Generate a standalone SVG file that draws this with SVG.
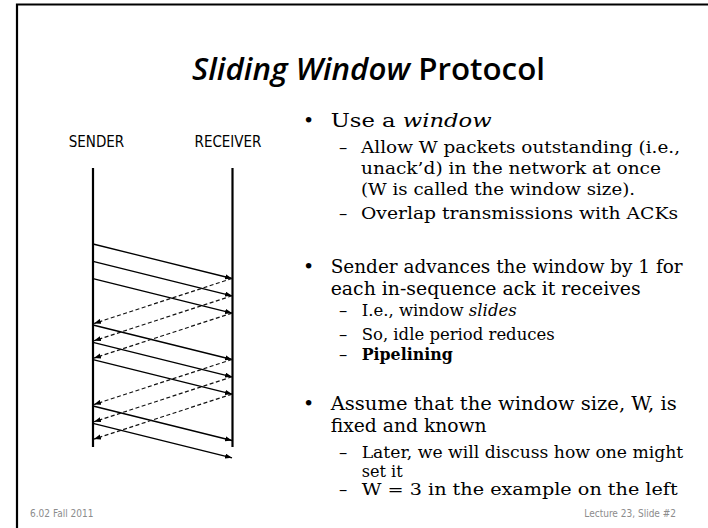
<svg xmlns="http://www.w3.org/2000/svg" width="708" height="528" viewBox="0 0 708 528">
  <style>
    .title { font-family: "Open Sans", "DejaVu Sans Condensed", sans-serif; font-weight: 600; font-size: 30px; fill: #000; }
    .lbl { font-family: "DejaVu Sans Condensed", "DejaVu Sans", sans-serif; font-size: 15px; fill: #000; }
    .foot { font-family: "DejaVu Sans Condensed", "DejaVu Sans", sans-serif; font-size: 10px; fill: #8c8c8c; }
    .b1 { font-family: "DejaVu Serif", "Liberation Serif", serif; font-size: 19px; fill: #000; }
    .b2 { font-family: "DejaVu Serif", "Liberation Serif", serif; font-size: 16.5px; fill: #000; }
    .life { stroke: #000; stroke-width: 2.2; fill: none; }
    .pkt { stroke: #000; stroke-width: 1.3; fill: none; marker-end: url(#head); }
    .ack { stroke: #111; stroke-width: 1.2; stroke-dasharray: 4 2.5; fill: none; marker-end: url(#head); }
  </style>
  <defs>
    <marker id="head" viewBox="0 0 8 6" refX="8" refY="3" markerWidth="7" markerHeight="5.5" markerUnits="userSpaceOnUse" orient="auto">
      <path d="M0,0 L8,3 L0,6 z" fill="#000"/>
    </marker>
  </defs>

  <rect width="708" height="528" fill="#fff"/>
  <!-- slide frame: top and left rules -->
  <path d="M17,528 L17,4.5 L708,4.5" stroke="#000" stroke-width="2.2" fill="none"/>

  <text class="title" x="192" y="80" textLength="353" lengthAdjust="spacingAndGlyphs"><tspan font-style="italic">Sliding Window</tspan> Protocol</text>

  <g id="sender">
    <text class="lbl" x="96.5" y="147" text-anchor="middle">SENDER</text>
    <line class="life" x1="93" y1="168" x2="93" y2="447"/>
  </g>
  <g id="receiver">
    <text class="lbl" x="228" y="147" text-anchor="middle">RECEIVER</text>
    <line class="life" x1="232.5" y1="168" x2="232.5" y2="447"/>
  </g>

  <g id="connectors">
    <!-- data packets, sender to receiver -->
    <line class="pkt" x1="93" y1="244" x2="232" y2="278.5"/>
    <line class="pkt" x1="93" y1="261.3" x2="232" y2="295.8"/>
    <line class="pkt" x1="93" y1="278.6" x2="232" y2="313.1"/>
    <line class="pkt" x1="93" y1="325" x2="232" y2="359.5"/>
    <line class="pkt" x1="93" y1="342.3" x2="232" y2="376.8"/>
    <line class="pkt" x1="93" y1="359.6" x2="232" y2="394.1"/>
    <line class="pkt" x1="93" y1="406" x2="232" y2="440.5"/>
    <line class="pkt" x1="93" y1="423.3" x2="232" y2="457.8"/>
    <!-- acknowledgements, receiver to sender -->
    <line class="ack" x1="232" y1="278.5" x2="94" y2="323.5"/>
    <line class="ack" x1="232" y1="295.8" x2="94" y2="340.8"/>
    <line class="ack" x1="232" y1="313.1" x2="94" y2="358.1"/>
    <line class="ack" x1="232" y1="359.5" x2="94" y2="404.5"/>
    <line class="ack" x1="232" y1="376.8" x2="94" y2="421.8"/>
    <line class="ack" x1="232" y1="394.1" x2="94" y2="439.1"/>
  </g>

  <g id="notes" lengthAdjust="spacingAndGlyphs">
    <text class="b1" x="303" y="127">•</text>
    <text class="b1" x="330.7" y="127" font-size="20" textLength="161" lengthAdjust="spacingAndGlyphs">Use a <tspan font-style="italic">window</tspan></text>
    <text class="b2" x="339" y="152.7">–</text>
    <text class="b2" x="361" y="152.7" textLength="319" lengthAdjust="spacingAndGlyphs">Allow W packets outstanding (i.e.,</text>
    <text class="b2" x="361" y="174" textLength="300" lengthAdjust="spacingAndGlyphs">unack’d) in the network at once</text>
    <text class="b2" x="361" y="195" textLength="274" lengthAdjust="spacingAndGlyphs">(W is called the window size).</text>
    <text class="b2" x="339" y="219.3">–</text>
    <text class="b2" x="361" y="219.3" textLength="317" lengthAdjust="spacingAndGlyphs">Overlap transmissions with ACKs</text>

    <text class="b1" x="303" y="273.3">•</text>
    <text class="b1" x="330.7" y="273.3" textLength="352" lengthAdjust="spacingAndGlyphs">Sender advances the window by 1 for</text>
    <text class="b1" x="330.7" y="295" textLength="310" lengthAdjust="spacingAndGlyphs">each in-sequence ack it receives</text>
    <text class="b2" x="339" y="315.7">–</text>
    <text class="b2" x="361.7" y="315.7" textLength="155" lengthAdjust="spacingAndGlyphs">I.e., window <tspan font-style="italic">slides</tspan></text>
    <text class="b2" x="339" y="340">–</text>
    <text class="b2" x="361.7" y="340" textLength="193" lengthAdjust="spacingAndGlyphs">So, idle period reduces</text>
    <text class="b2" x="339" y="360">–</text>
    <text class="b2" x="361.7" y="360" font-weight="bold" textLength="91" lengthAdjust="spacingAndGlyphs">Pipelining</text>

    <text class="b1" x="303" y="410">•</text>
    <text class="b1" x="330.7" y="410" textLength="346" lengthAdjust="spacingAndGlyphs">Assume that the window size, W, is</text>
    <text class="b1" x="330.7" y="431.7" textLength="156" lengthAdjust="spacingAndGlyphs">fixed and known</text>
    <text class="b2" x="339" y="458.3">–</text>
    <text class="b2" x="361.7" y="458.3" textLength="321.6" lengthAdjust="spacingAndGlyphs">Later, we will discuss how one might</text>
    <text class="b2" x="361.7" y="476.7" textLength="41" lengthAdjust="spacingAndGlyphs">set it</text>
    <text class="b2" x="339" y="495">–</text>
    <text class="b2" x="361.7" y="495" textLength="316" lengthAdjust="spacingAndGlyphs">W = 3 in the example on the left</text>
  </g>

  <text class="foot" x="30" y="517" font-size="9.5">6.02 Fall 2011</text>
  <text class="foot" x="676" y="517" font-size="9.5" text-anchor="end">Lecture 23, Slide #2</text>
</svg>
